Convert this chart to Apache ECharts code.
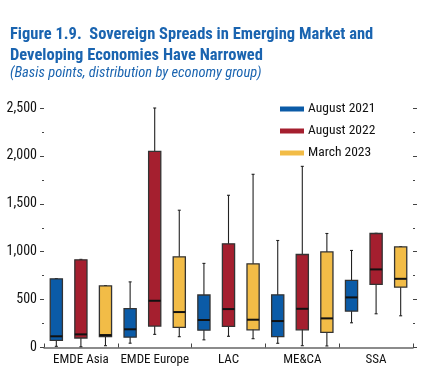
<!DOCTYPE html>
<html><head><meta charset="utf-8">
<script src="https://cdn.jsdelivr.net/npm/echarts@6/dist/echarts.min.js"></script>
<style>html,body{margin:0;padding:0;background:#fff}#c{width:427px;height:383px}</style>
</head><body><div id="c"></div>
<script>
const categories = ['EMDE Asia', 'EMDE Europe', 'LAC', 'ME&CA', 'SSA'];
const seriesNames = ['August 2021', 'August 2022', 'March 2023'];
// [min, Q1, median, Q3, max]
const aug2021 = [[12, 75, 117, 717, 720], [45, 108, 190, 405, 685], [80, 181, 287, 548, 878], [44, 113, 276, 550, 1117], [258, 380, 523, 700, 1013]];
const aug2022 = [[8, 99, 137, 915, 920], [137, 224, 488, 2047, 2500], [117, 221, 401, 1082, 1589], [19, 185, 404, 971, 1891], [352, 659, 815, 1190, 1192]];
const mar2023 = [[19, 115, 130, 643, 646], [113, 210, 370, 946, 1433], [92, 185, 290, 873, 1808], [16, 158, 304, 998, 1190], [331, 630, 717, 1050, 1052]];
const yTicks = [0, 500, 1000, 1500, 2000, 2500];
const colors = ['#0b5ba7', '#a51f2f', '#f2bc47'];
const FONT = '"Roboto Condensed", "Liberation Sans", Arial, sans-serif';

const allData = [aug2021, aug2022, mar2023];
function makeSeries(idx) {
  return {
    type: 'custom',
    name: seriesNames[idx],
    itemStyle: { color: colors[idx] },
    encode: { x: 0, y: [1, 2, 3, 4, 5] },
    data: allData[idx].map((v, i) => [i, ...v]),
    renderItem: function (params, api) {
      const c = api.value(0);
      const band = api.size([1, 0])[0];
      const off = (idx - 1) * band * 0.333;
      const w = band * 0.165;
      const pMin = api.coord([c, api.value(1)]);
      const pQ1 = api.coord([c, api.value(2)]);
      const pMed = api.coord([c, api.value(3)]);
      const pQ3 = api.coord([c, api.value(4)]);
      const pMax = api.coord([c, api.value(5)]);
      const x = pMin[0] + off;
      const line = { stroke: '#222', lineWidth: 1.1 };
      return {
        type: 'group',
        children: [
          { type: 'line', shape: { x1: x, y1: pMax[1], x2: x, y2: pMin[1] }, style: line },
          { type: 'line', shape: { x1: x - 1.5, y1: pMax[1], x2: x + 1.5, y2: pMax[1] }, style: line },
          { type: 'line', shape: { x1: x - 1.5, y1: pMin[1], x2: x + 1.5, y2: pMin[1] }, style: line },
          { type: 'rect', shape: { x: x - w / 2, y: pQ3[1], width: w, height: pQ1[1] - pQ3[1] },
            style: { fill: colors[idx], stroke: '#333', lineWidth: 1.3 } },
          { type: 'line', shape: { x1: x - w / 2, y1: pMed[1], x2: x + w / 2, y2: pMed[1] },
            style: { stroke: '#111', lineWidth: 2 } }
        ]
      };
    }
  };
}

const chart = echarts.init(document.getElementById('c'));
chart.setOption({
  animation: false,
  textStyle: { fontFamily: FONT },
  title: [
    { text: 'Figure 1.9.  Sovereign Spreads in Emerging Market and\nDeveloping Economies Have Narrowed',
      left: 5, top: 19,
      textStyle: { fontFamily: FONT, fontWeight: 'bold', fontSize: 16.5, color: '#1a64b0', lineHeight: 21 } },
    { text: '(Basis points, distribution by economy group)', left: 5, top: 61,
      textStyle: { fontFamily: FONT, fontStyle: 'italic', fontWeight: 'normal', fontSize: 14.5, color: '#1a64b0' } }
  ],
  legend: {
    orient: 'vertical', left: 275, top: 97, itemGap: 8,
    itemWidth: 24, itemHeight: 5, icon: 'rect',
    data: seriesNames,
    textStyle: { fontFamily: FONT, fontSize: 13.5, color: '#111', padding: [0, 0, 0, -1] }
  },
  grid: { left: 44, right: 14, top: 108, bottom: 35.5 },
  xAxis: {
    type: 'category', data: categories,
    axisLine: { lineStyle: { color: '#666', width: 1.5 } },
    axisTick: { show: true, inside: true, length: 4, lineStyle: { color: '#444' } },
    axisLabel: { interval: 0, fontFamily: FONT, fontSize: 13, color: '#111', margin: 6 }
  },
  yAxis: [
    { type: 'value', min: 0, max: 2500, interval: 500, position: 'left',
      axisLine: { show: false },
      axisTick: { show: true, length: 4, lineStyle: { color: '#444' } },
      minorTick: { show: true, splitNumber: 2, length: 2, lineStyle: { color: '#444' } },
      splitLine: { show: false },
      axisLabel: { fontFamily: FONT, fontSize: 14, color: '#111', margin: 7,
        formatter: v => yTicks.includes(v) ? v.toLocaleString('en-US') : '' } },
    { type: 'value', min: 0, max: 2500, interval: 500, position: 'right',
      axisLine: { show: false },
      axisTick: { show: true, length: 4, lineStyle: { color: '#444' } },
      minorTick: { show: true, splitNumber: 2, length: 2, lineStyle: { color: '#444' } },
      splitLine: { show: false },
      axisLabel: { show: false } }
  ],
  series: [makeSeries(0), makeSeries(1), makeSeries(2)]
});
</script></body></html>
